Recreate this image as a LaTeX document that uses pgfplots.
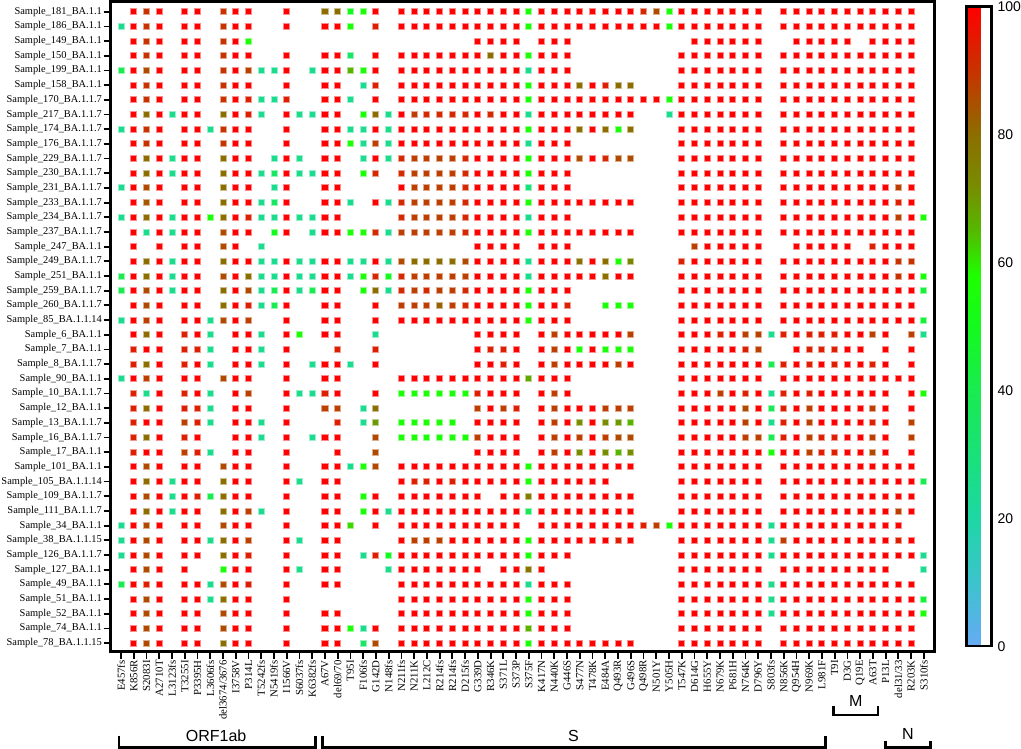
\documentclass[border=0pt]{standalone}
\usepackage{pgfplots}
\pgfplotsset{compat=1.18}
\usepackage{pgfplotstable}
\usepackage{fontspec}
\setmainfont{Liberation Serif}
\newfontfamily\arialfont{Liberation Sans}

\pgfplotstableread{
r c1 c2 c3 c4 c5 c6 c7 c8 c9 c10 c11 c12 c13 c14 c15 c16 c17 c18 c19 c20 c21 c22 c23 c24 c25 c26 c27 c28 c29 c30 c31 c32 c33 c34 c35 c36 c37 c38 c39 c40 c41 c42 c43 c44 c45 c46 c47 c48 c49 c50 c51 c52 c53 c54 c55 c56 c57 c58 c59 c60 c61 c62 c63 c64
1 0 100 90 100 0 100 100 0 90 100 100 0 0 100 0 0 80 80 50 56 100 0 100 100 100 100 100 100 100 100 100 100 56 100 100 100 100 100 100 100 100 92 86 56 100 100 100 100 100 100 100 0 100 100 100 100 100 100 100 100 100 100 100 0
2 25 100 90 100 0 100 100 0 90 100 100 0 0 100 0 0 100 100 56 0 94 0 100 100 100 100 100 100 100 100 100 100 56 100 100 100 100 100 100 100 100 100 100 56 100 100 100 100 100 100 100 0 100 100 100 100 100 100 100 100 100 100 100 0
3 0 100 90 100 0 100 100 0 90 100 56 0 0 0 0 0 0 0 0 0 0 0 0 0 0 0 0 0 100 100 100 100 0 100 100 100 0 0 0 0 0 0 0 0 0 100 100 100 100 100 100 0 0 100 100 100 100 100 0 100 100 100 100 0
4 0 100 90 100 0 100 100 0 90 100 100 0 0 100 0 0 100 100 35 0 100 0 100 100 100 100 100 100 100 80 100 100 56 100 100 100 0 0 0 0 0 0 0 0 100 100 100 100 100 100 100 0 100 100 100 100 100 100 100 100 100 100 100 0
5 40 100 86 100 0 100 100 0 90 100 88 25 25 100 0 25 100 100 66 56 100 0 100 100 100 100 100 100 100 100 100 100 25 100 100 100 0 0 0 0 0 0 0 0 100 100 100 100 100 100 100 0 100 100 100 100 100 100 100 100 100 100 100 0
6 0 100 90 100 0 100 100 0 90 100 100 0 0 100 0 0 100 100 0 25 94 0 100 100 100 100 100 100 100 100 100 100 56 100 100 100 80 100 94 80 80 0 0 0 100 100 100 100 100 100 100 0 100 100 100 100 100 100 100 100 100 100 100 0
7 0 100 90 100 0 100 100 0 90 100 94 25 25 94 0 0 100 100 25 0 100 0 100 100 100 100 100 100 100 100 100 100 56 100 100 100 100 100 100 100 100 100 100 56 100 100 100 100 100 100 100 0 100 100 100 100 100 100 100 100 100 100 100 0
8 0 100 80 100 25 100 100 0 80 100 94 25 0 100 25 25 100 100 0 56 80 25 100 88 92 92 92 92 100 92 100 100 25 100 100 100 100 100 100 100 100 0 0 25 100 100 100 100 100 100 100 0 100 100 100 100 100 100 100 100 100 100 100 0
9 25 100 90 100 0 100 100 25 90 100 100 0 0 100 0 0 100 100 25 25 100 25 100 100 100 100 100 100 100 100 100 100 56 100 100 100 80 100 80 56 80 0 0 0 100 100 100 100 100 100 100 0 100 100 100 100 100 100 100 100 100 100 100 0
10 0 100 90 100 0 100 100 0 90 100 100 0 0 100 0 0 100 100 56 25 88 25 100 100 100 100 100 100 100 100 100 100 25 100 100 100 0 0 0 0 0 0 0 0 100 100 100 100 100 100 100 0 100 100 100 100 100 100 100 100 100 100 100 0
11 0 100 80 100 25 100 100 0 80 100 100 0 25 100 25 0 100 100 0 25 100 25 92 88 88 88 88 92 100 100 100 100 56 100 100 100 86 100 92 86 86 0 0 0 100 100 100 100 100 100 100 0 100 100 100 100 100 100 100 100 100 100 100 0
12 0 100 80 100 25 100 100 0 80 100 100 25 35 100 25 25 100 100 0 56 92 0 92 88 88 88 88 92 100 100 100 100 56 100 100 100 0 0 0 0 0 0 0 0 100 100 100 100 100 100 100 0 100 100 100 100 100 100 100 100 100 100 100 0
13 25 100 86 100 0 100 100 0 80 100 100 0 25 100 0 0 100 100 0 0 0 0 100 88 88 88 88 92 100 100 100 100 30 100 100 100 0 0 0 0 0 0 0 0 100 100 100 100 100 100 100 0 100 100 100 100 100 100 100 100 100 88 100 0
14 0 100 84 100 0 100 100 0 80 100 100 25 35 100 0 0 100 100 25 0 100 25 92 88 88 88 88 92 100 100 100 100 56 100 100 100 100 100 100 100 100 0 0 0 100 100 100 100 100 100 100 0 100 100 100 100 100 100 100 100 100 94 100 0
15 25 100 80 100 25 100 100 56 80 100 94 25 25 100 25 25 100 100 0 0 0 0 92 88 88 88 88 92 100 100 100 100 25 100 100 100 0 0 0 0 0 0 0 0 100 100 100 100 100 100 100 0 100 100 100 100 100 100 100 100 100 88 100 56
16 0 100 25 100 25 100 100 0 86 100 100 0 50 100 0 25 100 100 56 56 92 25 88 88 88 88 88 92 100 100 100 100 56 100 100 100 100 100 100 100 100 0 0 0 100 100 100 100 100 100 100 0 100 100 100 100 100 100 100 100 100 100 100 0
17 0 100 0 100 0 100 100 0 86 100 0 25 0 0 0 0 0 0 0 0 0 0 0 0 0 0 0 0 100 100 100 100 0 100 100 100 0 0 0 0 0 0 0 0 0 88 100 100 100 100 100 0 0 100 100 100 100 100 0 94 100 100 100 0
18 0 100 80 100 25 100 100 0 80 100 100 25 25 100 25 25 100 100 25 25 100 25 86 80 80 80 80 86 100 100 100 100 25 100 100 100 80 100 80 56 74 0 0 0 94 100 100 100 100 100 100 0 100 100 100 100 100 100 100 100 100 90 90 0
19 40 100 80 100 25 100 100 0 86 100 80 25 25 100 25 25 100 100 25 56 92 50 92 88 88 88 88 88 100 100 100 100 25 100 100 100 100 100 80 100 100 0 0 0 100 100 100 100 100 100 100 0 100 100 100 100 100 100 100 100 100 90 100 56
20 40 100 86 100 25 100 100 0 80 100 86 25 40 100 25 40 100 100 0 56 80 25 92 88 92 88 88 92 100 100 100 100 56 100 100 100 0 0 0 0 0 0 0 0 100 100 100 100 100 100 100 0 100 100 100 100 100 100 100 100 100 100 100 45
21 0 100 86 100 0 100 100 0 80 100 94 25 40 100 0 0 100 100 0 0 100 0 88 88 88 82 88 92 100 100 100 100 56 100 100 94 0 0 56 56 56 0 0 0 100 100 100 100 100 100 100 0 100 100 100 100 100 100 100 100 100 100 100 0
22 25 100 88 100 0 100 100 25 86 100 88 0 0 100 0 0 100 100 0 0 100 0 100 100 100 100 100 100 100 100 100 100 56 100 100 100 0 0 0 0 0 0 0 0 100 100 100 100 100 100 100 0 100 100 100 100 100 100 100 100 100 100 100 45
23 0 100 80 100 0 94 100 25 0 100 100 25 0 100 56 0 100 100 0 0 25 0 0 0 0 0 0 0 100 100 100 100 0 100 88 100 100 100 100 100 88 0 0 0 100 100 100 94 100 88 88 25 94 100 94 94 94 100 100 88 100 0 88 25
24 0 94 100 100 0 94 94 25 0 100 100 25 0 100 0 0 0 94 0 0 94 0 0 0 0 0 0 0 100 94 94 100 0 100 88 100 56 100 56 56 56 0 0 0 100 100 100 100 100 94 88 0 0 100 94 94 94 100 100 0 100 0 100 0
25 0 94 80 100 0 94 100 25 0 100 100 25 0 100 0 25 100 100 25 0 100 0 0 0 0 0 0 0 100 100 94 100 0 100 88 100 100 100 100 88 100 0 0 0 100 100 100 100 100 100 100 40 94 100 94 100 94 100 100 94 100 0 100 0
26 25 100 88 100 0 100 100 0 86 100 100 0 0 100 0 0 100 100 0 0 0 0 100 100 100 100 100 100 100 100 100 100 68 100 100 100 0 0 0 0 0 0 0 0 100 100 100 100 100 100 100 0 100 100 100 100 100 100 100 100 100 100 100 0
27 0 94 25 100 0 94 100 25 0 100 88 0 0 100 25 25 94 100 0 0 100 0 56 56 56 56 56 56 94 100 100 100 0 100 88 100 0 0 0 0 0 0 0 0 100 100 100 88 100 94 100 25 94 100 94 100 100 100 100 100 100 0 100 56
28 0 94 80 100 0 94 94 25 0 100 100 0 0 100 0 0 88 88 0 25 80 0 0 0 0 0 0 0 88 100 88 94 0 100 88 100 100 100 88 88 88 0 0 0 100 100 100 100 100 86 100 40 94 100 88 100 100 100 100 88 100 0 100 0
29 0 94 100 100 0 88 94 25 0 100 100 25 0 100 0 0 0 94 0 25 70 0 56 56 56 56 56 0 100 100 100 100 0 100 88 100 72 100 72 70 66 0 0 0 100 100 100 100 100 88 100 25 94 100 88 100 100 100 100 94 100 0 88 0
30 0 94 80 100 0 94 100 0 0 100 100 25 0 100 0 25 100 100 0 0 86 0 56 56 56 56 56 56 88 100 100 100 0 100 88 100 88 100 88 86 86 0 0 0 100 100 100 100 100 88 88 40 94 100 88 94 94 100 100 88 100 0 88 0
31 0 94 100 100 0 88 94 25 0 100 100 0 0 100 0 0 0 100 0 0 86 0 0 0 0 0 0 0 100 100 100 100 0 100 88 100 72 100 72 66 72 0 0 0 100 100 100 100 100 100 100 56 100 100 88 94 94 100 100 86 100 0 100 0
32 0 100 86 100 0 100 100 0 86 100 100 0 0 100 0 0 100 100 25 56 86 0 100 100 100 100 100 100 100 100 100 100 56 100 100 100 100 100 100 100 100 0 0 0 100 100 100 100 100 100 100 0 100 100 100 100 100 100 100 100 100 100 100 0
33 0 100 80 100 25 100 100 0 80 100 100 0 0 100 25 0 100 100 0 0 0 0 100 94 94 100 94 100 100 100 100 100 56 100 100 100 100 100 100 0 0 0 0 0 100 100 100 100 100 100 100 0 100 100 100 100 100 100 100 100 100 100 100 40
34 0 100 86 100 25 100 94 40 80 100 100 0 0 100 0 0 100 100 0 56 100 0 100 100 100 100 100 100 100 0 100 100 76 100 100 100 100 100 100 100 100 0 0 0 100 100 100 100 100 100 100 0 100 100 100 100 100 100 100 100 100 100 100 0
35 0 100 80 100 25 100 100 0 80 100 88 25 0 100 0 0 100 100 0 56 100 25 100 100 100 100 100 100 100 100 100 100 38 100 100 100 100 100 100 100 100 0 0 0 100 100 100 100 100 100 100 0 100 100 100 100 100 100 100 100 100 88 100 0
36 25 100 86 100 0 100 100 0 86 100 100 0 0 100 0 0 100 100 62 0 100 0 100 100 100 100 100 100 100 100 100 100 0 100 100 100 100 100 100 100 100 94 88 56 100 100 100 100 100 100 100 25 100 100 100 100 100 100 100 100 100 100 0 0
37 25 100 86 100 0 100 100 25 80 100 88 0 0 100 25 0 100 100 0 0 0 0 100 88 88 88 100 100 100 100 100 100 56 100 100 100 100 100 100 94 100 0 0 0 100 100 100 100 100 100 100 25 88 100 100 100 100 100 100 100 100 94 100 0
38 25 100 86 100 0 100 100 0 80 100 94 0 0 100 0 0 100 100 0 25 94 50 100 100 100 100 100 100 100 100 100 100 56 100 100 100 0 0 0 0 0 0 0 0 100 100 100 100 100 100 100 25 100 100 100 100 100 100 100 100 100 100 100 25
39 0 100 86 100 0 100 0 0 56 100 100 0 0 100 25 0 100 100 0 0 0 25 100 100 100 100 100 100 100 0 100 100 78 100 0 0 0 0 0 0 0 0 0 0 100 100 100 100 100 100 100 0 100 100 100 100 100 100 100 100 100 0 0 25
40 40 100 94 100 0 100 100 25 86 100 94 0 0 100 0 0 100 100 0 0 0 0 100 100 100 100 100 100 100 100 100 100 25 100 100 100 0 0 0 0 0 0 0 0 100 100 100 100 100 100 100 25 100 100 100 100 100 100 100 100 100 100 100 0
41 0 100 86 100 0 100 100 25 80 100 100 0 0 100 0 0 0 0 0 0 0 0 100 100 100 100 100 100 100 100 100 100 56 100 100 100 0 0 0 0 0 0 0 0 100 100 100 100 100 100 100 25 100 100 100 100 100 100 100 100 100 100 100 45
42 0 100 86 100 0 100 100 0 86 100 100 0 0 100 0 0 100 100 0 0 0 0 100 100 100 100 100 100 100 100 100 100 56 100 100 100 0 0 0 0 0 0 0 0 100 100 100 100 100 100 100 25 100 100 100 100 100 100 100 100 100 100 100 56
43 0 100 86 100 0 100 100 0 86 100 100 0 0 100 0 0 100 100 56 25 100 0 100 100 100 100 100 100 100 100 100 100 66 100 100 100 0 0 0 0 0 0 0 0 100 100 100 100 100 100 100 0 100 100 100 100 100 100 100 100 100 100 100 0
44 0 100 86 100 0 100 100 0 80 100 100 0 0 100 0 0 100 100 0 35 86 0 100 100 100 100 100 100 100 100 100 100 56 100 100 100 100 100 100 100 100 0 0 0 100 100 100 100 100 100 100 0 100 100 100 100 100 100 100 100 100 100 100 0
}\heat

\begin{document}
\begin{tikzpicture}
\begin{axis}[
  scale only axis, width=823pt, height=649.7pt,
  xmin=0.175, xmax=64.82, ymin=0.29, ymax=44.58, y dir=reverse,
  axis line style={line width=2.6pt},
  clip=false,
  xtick={1,...,64},
  xticklabels={E457fs,K856R,S2083I,A2710T,L3123fs,T3255I,P3395H,L3606fs,del3674/3676,I3758V,P314L,T5242fs,N5419fs,I1566V,S6037fs,K6382fs,A67V,del69/70,T95I,F106fs,G142D,N148fs,N211fs,N211K,L212C,R214fs,R214fs,D215fs,G339D,R346K,S371L,S373P,S375F,K417N,N440K,G446S,S477N,T478K,E484A,Q493R,G496S,Q498R,N501Y,Y505H,T547K,D614G,H655Y,N679K,P681H,N764K,D796Y,S803fs,N856K,Q954H,N969K,L981F,T9I,D3G,Q19E,A63T,P13L,del31/33,R203K,S310fs},
  ytick={1,...,44},
  yticklabels={Sample\_181\_BA.1.1,Sample\_186\_BA.1.1,Sample\_149\_BA.1.1,Sample\_150\_BA.1.1,Sample\_199\_BA.1.1,Sample\_158\_BA.1.1,Sample\_170\_BA.1.1.7,Sample\_217\_BA.1.1.7,Sample\_174\_BA.1.1.7,Sample\_176\_BA.1.1.7,Sample\_229\_BA.1.1.7,Sample\_230\_BA.1.1.7,Sample\_231\_BA.1.1.7,Sample\_233\_BA.1.1.7,Sample\_234\_BA.1.1.7,Sample\_237\_BA.1.1.7,Sample\_247\_BA.1.1,Sample\_249\_BA.1.1.7,Sample\_251\_BA.1.1,Sample\_259\_BA.1.1.7,Sample\_260\_BA.1.1.7,Sample\_85\_BA.1.1.14,Sample\_6\_BA.1.1,Sample\_7\_BA.1.1,Sample\_8\_BA.1.1.7,Sample\_90\_BA.1.1,Sample\_10\_BA.1.1.7,Sample\_12\_BA.1.1,Sample\_13\_BA.1.1.7,Sample\_16\_BA.1.1.7,Sample\_17\_BA.1.1,Sample\_101\_BA.1.1,Sample\_105\_BA.1.1.14,Sample\_109\_BA.1.1.7,Sample\_111\_BA.1.1.7,Sample\_34\_BA.1.1,Sample\_38\_BA.1.1.15,Sample\_126\_BA.1.1.7,Sample\_127\_BA.1.1,Sample\_49\_BA.1.1,Sample\_51\_BA.1.1,Sample\_52\_BA.1.1,Sample\_74\_BA.1.1,Sample\_78\_BA.1.1.15},
  tick align=outside, xtick pos=lower, ytick pos=left,
  major tick length=7pt,
  tick style={black, line width=1.8pt},
  x tick label style={rotate=90, anchor=east, font=\fontsize{10.8}{10.8}\selectfont, inner sep=1.5pt},
  y tick label style={font=\fontsize{10.4}{10.4}\selectfont, inner sep=1.5pt},
  colormap={hm}{rgb255(0pt)=(102,170,245); rgb255(10pt)=(60,195,205); rgb255(20pt)=(30,215,165); rgb255(30pt)=(25,225,120); rgb255(40pt)=(25,235,80); rgb255(50pt)=(20,250,30); rgb255(58pt)=(30,255,0); rgb255(65pt)=(85,185,0); rgb255(72pt)=(120,140,0); rgb255(80pt)=(140,110,0); rgb255(90pt)=(200,50,0); rgb255(100pt)=(255,0,0)},
  point meta min=0, point meta max=100,
  colorbar,
  colorbar style={
    scale only axis,
    width=25pt, height=639pt,
    at={(parent axis.east)}, anchor=west, xshift=23.5pt,
    y dir=normal,
    ytick={0,20,40,60,80,100},
    yticklabels={0,20,40,60,80,100},
    yticklabel pos=right,
    major tick length=0pt,
    axis line style={line width=2.4pt},
    yticklabel style={font=\arialfont\fontsize{14}{14}\selectfont, inner sep=0pt, xshift=6pt},
  },
]
\pgfplotsinvokeforeach{1,...,64}{
  \addplot[scatter, only marks, mark=square*, mark size=3pt, line width=0.9pt,
    point meta=explicit,
    scatter/use mapped color={draw=mapped color!45!white, fill=mapped color},
    restrict y to domain=0:100]
    table[x expr=#1, y expr={\thisrow{r}+1000*(\thisrow{c#1}<1)}, meta=c#1] {\heat};
}
% gene brackets (y in axis units below the frame; 1 unit = 14.67pt)
\draw[line width=2.6pt] (axis cs:0.84,50.3) -- (axis cs:0.84,51.1) -- (axis cs:16.24,51.1) -- (axis cs:16.24,50.3);
\node[font=\arialfont\fontsize{16}{16}\selectfont] at (axis cs:8.46,50.3) {ORF1ab};
\draw[line width=2.6pt] (axis cs:16.79,50.3) -- (axis cs:16.79,51.1) -- (axis cs:56.3,51.1) -- (axis cs:56.3,50.3);
\node[font=\arialfont\fontsize{16}{16}\selectfont] at (axis cs:36.5,50.3) {S};
\draw[line width=2.6pt] (axis cs:56.9,48.3) -- (axis cs:56.9,48.9) -- (axis cs:60.4,48.9) -- (axis cs:60.4,48.3);
\node[font=\arialfont\fontsize{16}{16}\selectfont] at (axis cs:58.65,47.95) {M};
\draw[line width=2.6pt] (axis cs:60.97,50.65) -- (axis cs:60.97,51.1) -- (axis cs:64.5,51.1) -- (axis cs:64.5,50.65);
\node[font=\arialfont\fontsize{16}{16}\selectfont] at (axis cs:62.75,50.2) {N};
\end{axis}
\end{tikzpicture}
\end{document}
